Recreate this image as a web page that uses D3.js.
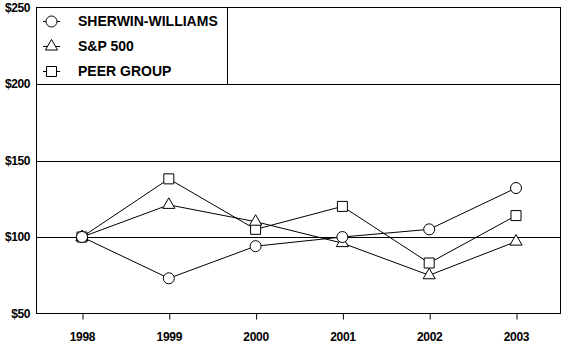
<!DOCTYPE html>
<html>
<head>
<meta charset="utf-8">
<script src="https://cdn.jsdelivr.net/npm/d3@7/dist/d3.min.js"></script>
<style>
  html, body { margin: 0; padding: 0; background: #fff; }
  svg { display: block; }
  text { font-family: "Liberation Sans", Arial, Helvetica, sans-serif; font-weight: bold; fill: #000; }
</style>
</head>
<body>
<svg id="chart" width="562" height="344"></svg>
<script>
const years = ["1998", "1999", "2000", "2001", "2002", "2003"];
const sherwin = [100, 73, 94, 100, 105, 132];
const sp500 = [100, 121, 110, 96, 75, 97];
const peer = [100, 138, 105, 120, 83, 114];
const yTicks = [50, 100, 150, 200, 250];
const seriesNames = ["SHERWIN-WILLIAMS", "S&P 500", "PEER GROUP"];

(function () {
const svg = d3.select("#chart");
const pL = 36.5, pR = 560.5, pT = 7.5, pB = 313.5;

const x = d3.scalePoint().domain(years).range([82, 516]);
const y = d3.scaleLinear().domain([50, 250]).range([pB, pT]);

// gridlines
svg.append("g").selectAll("line").data(yTicks.filter(d => d > 50 && d < 250)).join("line")
  .attr("x1", pL).attr("x2", pR)
  .attr("y1", d => Math.round(y(d)) + 0.5).attr("y2", d => Math.round(y(d)) + 0.5)
  .attr("stroke", "#000").attr("stroke-width", 1);

// frame
svg.append("rect").attr("x", pL).attr("y", pT)
  .attr("width", pR - pL).attr("height", pB - pT)
  .attr("fill", "none").attr("stroke", "#000").attr("stroke-width", 1);

// y labels
svg.append("g").selectAll("text").data(yTicks).join("text")
  .attr("x", 30).attr("y", d => y(d))
  .attr("dy", "0.36em").attr("text-anchor", "end")
  .attr("font-size", 12).attr("letter-spacing", -0.4)
  .text(d => "$" + d);

// x axis ticks and labels
const xAxis = d3.axisBottom(x).tickSize(6).tickPadding(13);
const gx = svg.append("g").attr("transform", `translate(0,${pB})`).call(xAxis);
gx.select(".domain").remove();
gx.selectAll(".tick line").attr("stroke", "#000").attr("transform", "translate(0.5,0)");
gx.selectAll(".tick text").attr("font-size", 12).attr("letter-spacing", -0.3)
  .attr("font-family", "Liberation Sans, Arial, sans-serif").attr("font-weight", "bold").attr("fill", "#000");

// legend box
svg.append("line").attr("x1", 227.5).attr("x2", 227.5).attr("y1", pT).attr("y2", Math.round(y(200)) + 0.5)
  .attr("stroke", "#000");

const symbols = {
  "SHERWIN-WILLIAMS": d3.symbol().type(d3.symbolCircle).size(Math.PI * 5.5 * 5.5),
  "S&P 500": d3.symbol().type(d3.symbolTriangle).size(64),
  "PEER GROUP": d3.symbol().type(d3.symbolSquare).size(100)
};
const dataMap = { "SHERWIN-WILLIAMS": sherwin, "S&P 500": sp500, "PEER GROUP": peer };

const line = d3.line().x((d, i) => x(years[i])).y(d => y(d));

["PEER GROUP", "S&P 500", "SHERWIN-WILLIAMS"].forEach(name => {
  const vals = dataMap[name];
  const g = svg.append("g");
  g.append("path").datum(vals).attr("d", line)
    .attr("fill", "none").attr("stroke", "#000").attr("stroke-width", 1);
  g.selectAll("path.m").data(vals).join("path").attr("class", "m")
    .attr("d", symbols[name]())
    .attr("transform", (d, i) => `translate(${x(years[i])},${y(d)})`)
    .attr("fill", "#fff").attr("stroke", "#000").attr("stroke-width", 1);
});

// legend entries
const legendY = [21, 46, 71];
const lg = svg.append("g").selectAll("g").data(seriesNames).join("g")
  .attr("transform", (d, i) => `translate(0,${legendY[i]})`);
lg.append("line").attr("x1", 43).attr("x2", 60).attr("y1", 0.5).attr("y2", 0.5).attr("stroke", "#000");
lg.append("path").attr("d", d => symbols[d]())
  .attr("transform", "translate(51.5,0.5)")
  .attr("fill", "#fff").attr("stroke", "#000");
lg.append("text").attr("x", 78).attr("y", 0).attr("dy", "0.36em")
  .attr("font-size", 14).attr("letter-spacing", 0)
  .text(d => d);
})();
</script>
</body>
</html>
